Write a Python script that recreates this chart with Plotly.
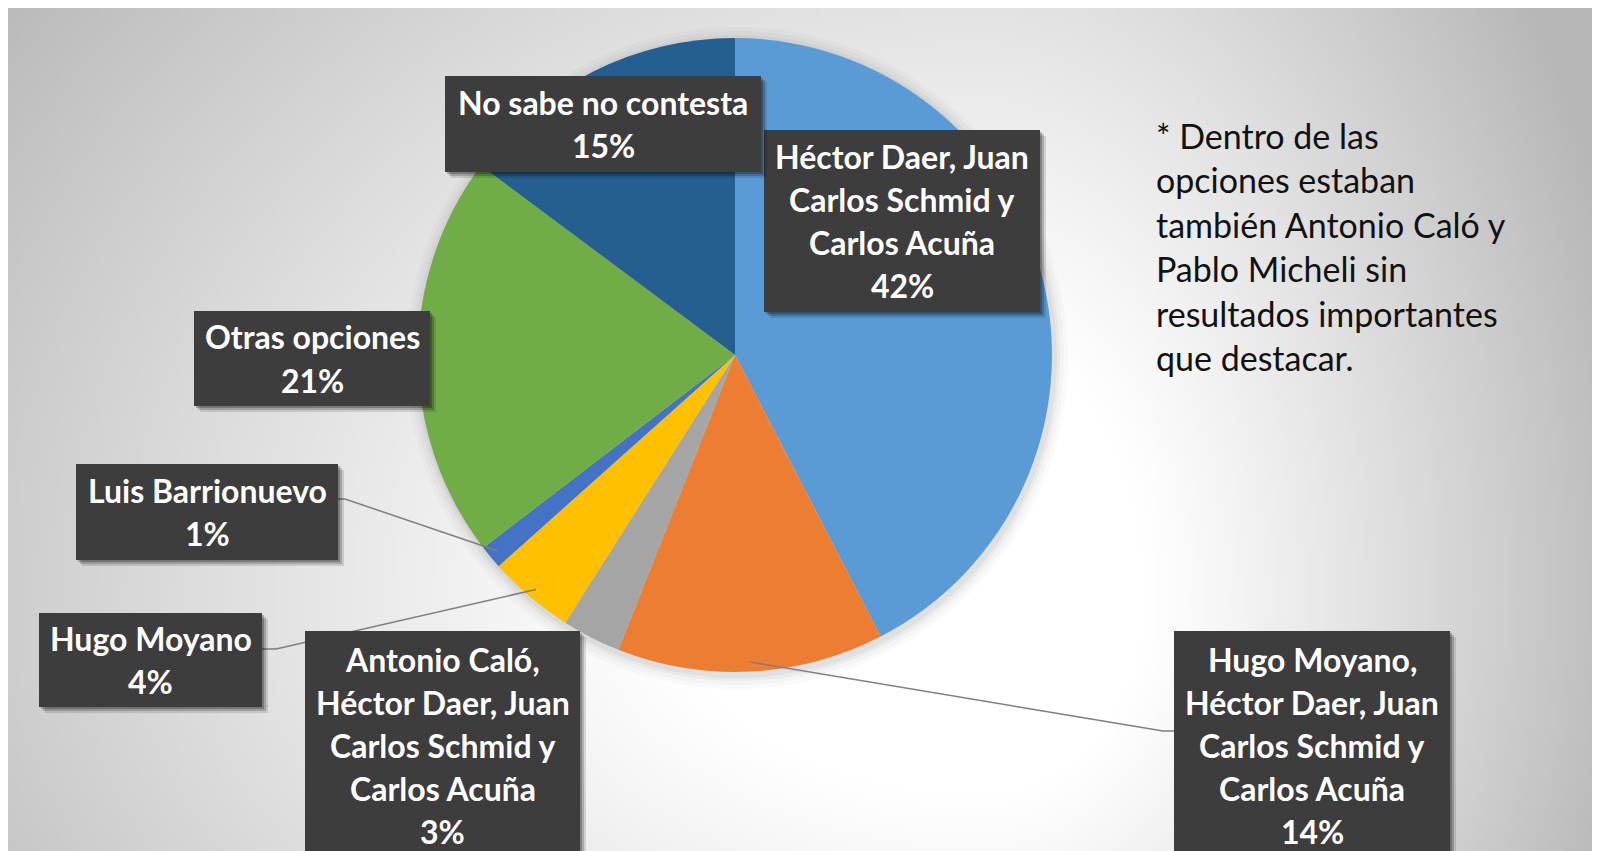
import base64
import struct
import zlib

import numpy as np
import plotly.graph_objects as go

# Datos de la encuesta (porcentajes)
etiquetas = [
    'Héctor Daer, Juan<br>Carlos Schmid y<br>Carlos Acuña',
    'Hugo Moyano,<br>Héctor Daer, Juan<br>Carlos Schmid y<br>Carlos Acuña',
    'Antonio Caló,<br>Héctor Daer, Juan<br>Carlos Schmid y<br>Carlos Acuña',
    'Hugo Moyano',
    'Luis Barrionuevo',
    'Otras opciones',
    'No sabe no contesta',
]
valores = [42.4, 13.6, 3.0, 4.4, 1.2, 20.6, 14.8]
colores = ['#5b9bd5', '#ed7d31', '#a5a5a5', '#ffc000', '#4472c4', '#70ad47', '#255e91']

nota = ['* Dentro de las', 'opciones estaban', 'también Antonio Caló y',
        'Pablo Micheli sin', 'resultados importantes', 'que destacar.']

W, H = 1600, 851
OFF = 8  # la página deja 8 px de margen
CX, CY, R = 735, 355, 317


def px(x):
    return (x - OFF) / W


def py(y):
    return 1 - (y - OFF) / H


def fondo_png(w=320, h=170):
    """Degradado radial gris como PNG en data URI."""
    xs = np.linspace(OFF, W + OFF, w)[None, :]
    ys = np.linspace(OFF, H + OFF, h)[:, None]
    cx, cy = 980, 600
    ax = np.where(xs < cx, 1250, 680)
    ay = np.where(ys < cy, 1050, 800)
    d = np.sqrt(((xs - cx) / ax) ** 2 + ((ys - cy) / ay) ** 2)
    t = np.clip((d - 0.25) / 0.75, 0, 1)
    g = (255 - 72 * t ** 1.1).astype(np.uint8)
    raw = b''.join(b'\x00' + row.tobytes() for row in g)

    def chunk(tag, data):
        c = struct.pack('>I', len(data)) + tag + data
        return c + struct.pack('>I', zlib.crc32(tag + data) & 0xffffffff)

    png = b'\x89PNG\r\n\x1a\n'
    png += chunk(b'IHDR', struct.pack('>IIBBBBB', w, h, 8, 0, 0, 0, 0))
    png += chunk(b'IDAT', zlib.compress(raw, 9))
    png += chunk(b'IEND', b'')
    return 'data:image/png;base64,' + base64.b64encode(png).decode()


def punto_borde(i, f=0.97):
    """Punto sobre el borde de la porción i (sentido horario desde arriba)."""
    total = sum(valores)
    acum = sum(valores[:i]) + valores[i] / 2
    ang = 2 * np.pi * acum / total
    return CX + f * R * np.sin(ang), CY - f * R * np.cos(ang)


fig = go.Figure(go.Pie(
    labels=[e.replace('<br>', ' ') for e in etiquetas],
    values=valores,
    sort=False,
    direction='clockwise',
    rotation=0,
    marker=dict(colors=colores, line=dict(width=0)),
    textinfo='none',
    hoverinfo='label+percent',
    domain=dict(x=[px(CX - R), px(CX + R)], y=[py(CY + R), py(CY - R)]),
    showlegend=False,
))

shapes = []
# sombra del gráfico
for k, a in [(14, 0.02), (10, 0.025), (6, 0.035), (3, 0.045)]:
    shapes.append(dict(type='circle', xref='paper', yref='paper', layer='below',
                       x0=px(CX - R - k + 2), x1=px(CX + R + k + 2),
                       y0=py(CY + R + k + 3), y1=py(CY - R - k + 3),
                       fillcolor=f'rgba(0,0,0,{a})', line=dict(width=0)))

# cajas de etiquetas: índice de porción, caja (x0, y0, x1, y1) en px de página
cajas = {
    0: (764, 130, 1040, 312),
    1: (1174, 631, 1450, 870),
    2: (305, 631, 580, 870),
    3: (39, 613, 262, 707),
    4: (76, 464, 338, 560),
    5: (194, 311, 430, 406),
    6: (445, 76, 761, 172),
}

# líneas guía
guias = {
    4: [(338, 499), (345, 499)],
    3: [(262, 649), (276, 649)],
    1: [(1174, 731), (1163, 731)],
}
for i, pts in guias.items():
    ex, ey = punto_borde(i)
    xs = [p[0] for p in pts] + [ex]
    ys = [p[1] for p in pts] + [ey]
    path = 'M ' + ' L '.join(f'{px(x)},{py(y)}' for x, y in zip(xs, ys))
    shapes.append(dict(type='path', xref='paper', yref='paper', path=path,
                       line=dict(color='#7f7f7f', width=1.5)))

annotations = []
total = sum(valores)
for i, (x0, y0, x1, y1) in cajas.items():
    for off, a in [(6, 0.12), (4, 0.18), (2, 0.25)]:
        shapes.append(dict(type='rect', xref='paper', yref='paper',
                           x0=px(x0 + off), x1=px(x1 + off), y0=py(y0 + off), y1=py(y1 + off),
                           fillcolor=f'rgba(0,0,0,{a})', line=dict(width=0)))
    shapes.append(dict(type='rect', xref='paper', yref='paper',
                       x0=px(x0), x1=px(x1), y0=py(y0), y1=py(y1),
                       fillcolor='#3d3d3d', line=dict(width=0)))
    lineas = etiquetas[i].split('<br>') + [f'{round(valores[i] / total * 100)}%']
    if y1 > H:
        yc = (y0 + 860) / 2
    else:
        yc = (y0 + y1) / 2
    sp = 43
    for j, t in enumerate(lineas):
        annotations.append(dict(
            text=t, xref='paper', yref='paper', showarrow=False,
            x=px((x0 + x1) / 2), y=py(yc + (j - (len(lineas) - 1) / 2) * sp),
            xanchor='center', yanchor='middle',
            font=dict(family='Lato', size=32, color='white', weight=700),
        ))

for j, t in enumerate(nota):
    annotations.append(dict(
        text=t, xref='paper', yref='paper', showarrow=False,
        x=px(1154), y=py(135 + j * 44.5), xanchor='left', yanchor='middle',
        font=dict(family='Lato', size=34, color='#111111'),
    ))

fig.update_layout(
    width=W, height=H,
    margin=dict(l=0, r=0, t=0, b=0),
    paper_bgcolor='#d8d8d8',
    plot_bgcolor='rgba(0,0,0,0)',
    images=[dict(source=fondo_png(), xref='paper', yref='paper',
                 x=0, y=1, sizex=1, sizey=1,
                 xanchor='left', yanchor='top', sizing='stretch', layer='below')],
    shapes=shapes,
    annotations=annotations,
)

fig.write_html('out.html')
